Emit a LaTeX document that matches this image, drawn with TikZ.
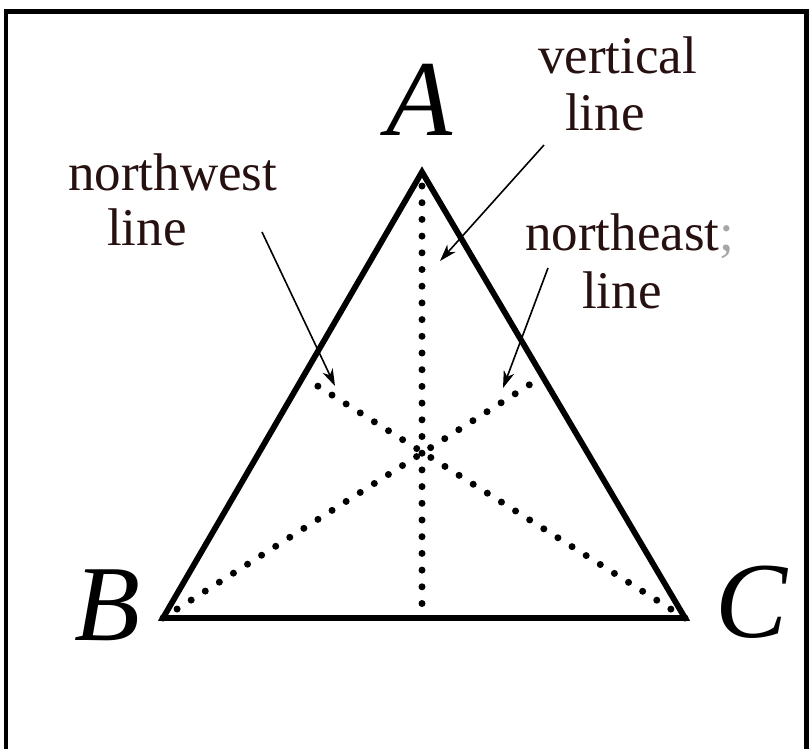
\documentclass[tikz,border=0pt]{standalone}
\usepackage{fontspec}
\setmainfont{Liberation Serif}
\usetikzlibrary{arrows.meta}
\definecolor{labelbrown}{RGB}{38,16,16}
\tikzset{
  frameline/.style={line width=4.5pt},
  triside/.style={line width=5.8pt, line join=miter},
  dotline/.style={line width=7pt, line cap=round, dash pattern=on 0pt off 16.7pt},
  pointer/.style={line width=1.6pt, -{Stealth[length=17pt,width=11pt,inset=5pt]}},
  vlabel/.style={anchor=base, inner sep=0pt, font=\fontsize{108}{110}\selectfont\itshape},
  txt/.style={anchor=base west, inner sep=0pt, text=labelbrown, font=\fontsize{53}{60}\selectfont}
}
\begin{document}
\begin{tikzpicture}[x=1pt,y=-1pt]
\useasboundingbox (0,0) rectangle (809,748);
\fill[white] (0,0) rectangle (809,748);
% frame
\draw[frameline] (6,750) -- (6,11.5) -- (806.5,11.5) -- (806.5,750);
% points
\coordinate (A) at (422,172);
\coordinate (B) at (163,618);
\coordinate (C) at (685,618);
\coordinate (F) at (422,618);
\coordinate (P) at (305,378);
\coordinate (Q) at (540,378);
% dotted lines
\draw[dotline] (422,186) -- (F);
\draw[dotline] (C) -- (P);
\draw[dotline] (B) -- (Q);
% triangle
\draw[triside] (A) -- (B) -- (C) -- cycle;
% vertex labels
\node[vlabel] (lA) at (419,135) {A};
\node[vlabel] (lB) at (107,640) {B};
\node[vlabel] (lC) at (752,637) {C};
% text labels
\node[txt] (nw1) at (68,190) {northwest};
\node[txt] (nw2) at (107,245) {line};
\node[txt] (v1) at (538,73) {vertical};
\node[txt] (v2) at (565,130) {line};
\node[txt] (ne1) at (525,250) {northeast\textcolor{black!35}{;}};
\node[txt] (ne2) at (582,308) {line};
% arrows
\coordinate (nwS) at (262,232);
\coordinate (nwT) at (335,386);
\coordinate (vS) at (544,145);
\coordinate (vT) at (440,261);
\coordinate (neS) at (548,268);
\coordinate (neT) at (503,388);
\draw[pointer] (nwS) -- (nwT);
\draw[pointer] (vS) -- (vT);
\draw[pointer] (neS) -- (neT);
\end{tikzpicture}
\end{document}
